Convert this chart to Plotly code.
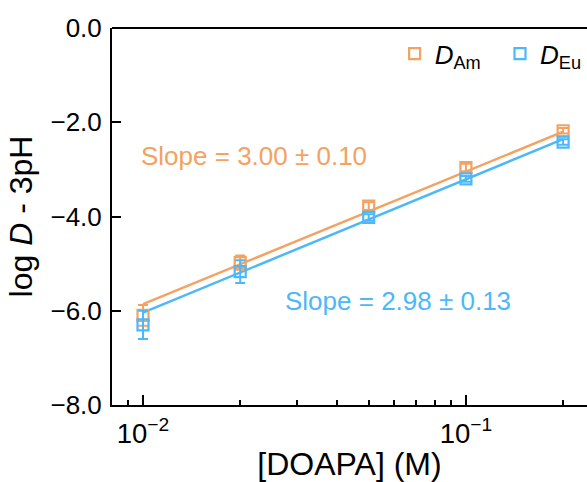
import plotly.graph_objects as go

conc = [0.01, 0.02, 0.05, 0.1, 0.2]
am_vals = [-6.10, -4.98, -3.78, -2.96, -2.18]
am_err = [0.22, 0.15, 0.08, 0.08, 0.06]
eu_vals = [-6.30, -5.17, -4.02, -3.20, -2.42]
eu_err = [0.30, 0.24, 0.07, 0.06, 0.06]

fit_x = [0.01, 0.2]
am_fit = [-5.86, -2.20]
eu_fit = [-6.04, -2.36]

am_color = "#F4A261"
eu_color = "#4DB8F7"
font_family = "Liberation Sans, Arial, sans-serif"

fig = go.Figure()
fig.add_trace(go.Scatter(x=fit_x, y=am_fit, mode="lines", line=dict(color=am_color, width=2.5), showlegend=False))
fig.add_trace(go.Scatter(x=fit_x, y=eu_fit, mode="lines", line=dict(color=eu_color, width=2.5), showlegend=False))
fig.add_trace(go.Scatter(
    x=conc, y=am_vals, mode="markers", name="<i>D</i><sub>Am</sub>", legend="legend",
    marker=dict(symbol="square-open", size=11, color=am_color, line=dict(width=2.2, color=am_color)),
    error_y=dict(type="data", array=am_err, color=am_color, thickness=2, width=5)))
fig.add_trace(go.Scatter(
    x=conc, y=eu_vals, mode="markers", name="<i>D</i><sub>Eu</sub>", legend="legend2",
    marker=dict(symbol="square-open", size=11, color=eu_color, line=dict(width=2.2, color=eu_color)),
    error_y=dict(type="data", array=eu_err, color=eu_color, thickness=2, width=5)))

fig.add_annotation(x=-1.655, y=-2.72, xref="x", yref="y", text="Slope = 3.00 ± 0.10", showarrow=False,
                   font=dict(size=26, color=am_color, family=font_family))
fig.add_annotation(x=-1.209, y=-5.79, xref="x", yref="y", text="Slope = 2.98 ± 0.13", showarrow=False,
                   font=dict(size=26, color=eu_color, family=font_family))

fig.add_shape(type="line", xref="paper", yref="paper", x0=0, x1=1, y0=1, y1=1,
              line=dict(color="black", width=2))

legend_common = dict(orientation="h", yanchor="middle", y=0.932,
                     font=dict(size=26), bgcolor="rgba(0,0,0,0)")

fig.update_layout(
    width=587, height=482,
    margin=dict(l=112, r=0, t=28, b=77),
    plot_bgcolor="white", paper_bgcolor="white",
    hovermode=False,
    font=dict(family=font_family, color="black", size=22),
    legend=dict(x=0.595, xanchor="left", **legend_common),
    legend2=dict(x=1.0, xanchor="right", **legend_common),
    xaxis=dict(type="log", range=[-2.096, -0.625], dtick=1, exponentformat="power",
               showline=True, linecolor="black", linewidth=2, mirror=False, automargin=False,
               ticks="inside", ticklen=10, tickwidth=2, tickcolor="black", ticklabelstandoff=4,
               showgrid=False, zeroline=False, tickfont=dict(size=22),
               minor=dict(ticks="inside", ticklen=5, tickwidth=2, tickcolor="black", showgrid=False),
               title=dict(text="[DOAPA] (M)", font=dict(size=32), standoff=2)),
    yaxis=dict(range=[-8, 0], dtick=2, tickformat=".1f",
               showline=True, linecolor="black", linewidth=2, mirror=False, automargin=False,
               ticks="inside", ticklen=9, tickwidth=2, tickcolor="black", ticklabelstandoff=3,
               showgrid=False, zeroline=False, tickfont=dict(size=26),
               title=dict(text="log <i>D</i> - 3pH", font=dict(size=32), standoff=8)),
)

fig.write_html("out.html", config={"displayModeBar": False},
               post_script="document.body.style.margin='0px';")
